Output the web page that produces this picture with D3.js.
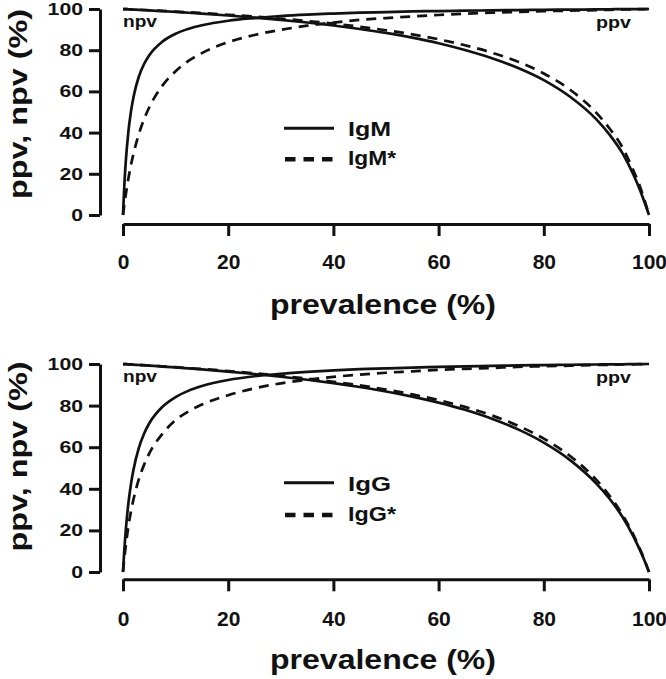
<!DOCTYPE html>
<html>
<head>
<meta charset="utf-8">
<script src="https://cdn.jsdelivr.net/npm/d3@7"></script>
<style>
  body { margin: 0; background: #fff; }
  svg { display: block; }
  text { font-family: "Liberation Sans", Arial, sans-serif; font-weight: bold; fill: #111; }
</style>
</head>
<body>
<svg id="chart" width="666" height="679"></svg>
<script>
// ---- data ----
const prevalence = [0, 0.25, 0.5, 1, 1.5, 2, 3, 4, 5, 7.5, 10, 12.5, 15, 20, 25, 30, 35, 40, 45, 50, 55, 60, 65, 70, 75, 80, 85, 90, 92.5, 95, 97, 98, 99, 100];

const igmPpv  = [0, 14.2, 24.9, 39.9, 50.0, 57.3, 67.1, 73.3, 77.6, 84.2, 88.0, 90.4, 92.1, 94.3, 95.6, 96.6, 97.3, 97.8, 98.2, 98.5, 98.8, 99.0, 99.2, 99.35, 99.5, 99.6, 99.7, 99.8, 99.88, 99.92, 99.95, 99.97, 99.98, 100];
const igmNpv  = [100, 99.97, 99.93, 99.87, 99.8, 99.73, 99.6, 99.46, 99.32, 98.96, 98.6, 98.18, 97.76, 96.85, 95.85, 94.72, 93.46, 92.0, 90.3, 88.4, 86.1, 83.4, 80.1, 76.2, 71.5, 65.5, 57.4, 46.4, 39.0, 29.8, 19.8, 14.0, 7.3, 0];
const igmSPpv = [0, 5.0, 9.5, 17.4, 24.1, 29.8, 39.2, 46.5, 52.3, 62.8, 69.8, 74.9, 78.6, 83.9, 87.4, 89.9, 91.9, 93.4, 94.7, 95.6, 96.4, 97.1, 97.7, 98.2, 98.6, 98.9, 99.2, 99.47, 99.61, 99.75, 99.85, 99.9, 99.95, 100];
const igmSNpv = [100, 99.97, 99.94, 99.88, 99.83, 99.77, 99.64, 99.52, 99.4, 99.08, 98.74, 98.38, 98.01, 97.2, 96.3, 95.3, 94.17, 92.9, 91.4, 89.7, 87.7, 85.3, 82.4, 78.9, 74.5, 68.7, 60.8, 49.6, 42.0, 32.6, 21.8, 15.8, 8.4, 0];

const iggPpv  = [0, 10.7, 19.3, 32.5, 42.0, 49.3, 59.6, 66.5, 71.5, 79.4, 84.1, 87.2, 89.4, 92.3, 94.1, 95.3, 96.2, 96.9, 97.5, 97.9, 98.3, 98.6, 98.9, 99.1, 99.3, 99.5, 99.63, 99.77, 99.83, 99.89, 99.94, 99.96, 99.98, 100];
const iggNpv  = [100, 99.96, 99.92, 99.85, 99.77, 99.69, 99.53, 99.37, 99.21, 98.78, 98.34, 97.87, 97.39, 96.34, 95.18, 93.88, 92.43, 90.8, 88.94, 86.8, 84.33, 81.43, 77.99, 73.82, 68.68, 62.2, 53.8, 42.5, 35.2, 26.3, 17.3, 12.1, 6.4, 0];
const iggSPpv = [0, 6.5, 12, 21.5, 29, 35, 44.5, 51.5, 57, 66.5, 73, 77.3, 80.5, 85.0, 88.3, 90.7, 92.4, 93.8, 94.9, 95.8, 96.5, 97.2, 97.7, 98.1, 98.6, 98.9, 99.2, 99.5, 99.64, 99.77, 99.86, 99.91, 99.96, 100];
const iggSNpv = [100, 99.96, 99.93, 99.86, 99.79, 99.71, 99.57, 99.42, 99.27, 98.88, 98.47, 98.04, 97.59, 96.62, 95.54, 94.34, 92.99, 91.46, 89.72, 87.72, 85.39, 82.64, 79.37, 75.38, 70.42, 64.1, 55.76, 44.25, 36.67, 27.32, 18.09, 12.72, 6.73, 0];

const xTicks = [0, 20, 40, 60, 80, 100];
const yTicks = [0, 20, 40, 60, 80, 100];
const legendTop = ["IgM", "IgM*"];
const legendBottom = ["IgG", "IgG*"];
const xTitle = "prevalence (%)";
const yTitle = "ppv, npv (%)";

// ---- drawing ----
const svg = d3.select("#chart");
const LW = 2.7;
const DASH = "10,7";

function panel(cfg) {
  const g = svg.append("g");
  const x = d3.scaleLinear().domain([0, 100]).range([123, 649]);
  const y = d3.scaleLinear().domain([0, 100]).range([cfg.y0, cfg.y100]);

  // y axis
  const ya = g.append("g").attr("transform", "translate(100,0)")
    .call(d3.axisLeft(y).tickValues(yTicks).tickSize(11).tickSizeOuter(0).tickPadding(6));
  ya.selectAll("text")
    .style("font-size", "17px").style("font-family", "Liberation Sans, Arial, sans-serif").style("font-weight", "bold")
    .attr("fill", "#111")
    .attr("textLength", function () { return this.textContent.length * 11.8; })
    .attr("lengthAdjust", "spacingAndGlyphs");
  // x axis
  const xa = g.append("g").attr("transform", `translate(0,${cfg.xAxisY})`)
    .call(d3.axisBottom(x).tickValues(xTicks).tickSize(12).tickSizeOuter(0).tickPadding(cfg.xPad));
  xa.selectAll("text").style("font-size", "21px").style("font-family", "Liberation Sans, Arial, sans-serif").style("font-weight", "bold").attr("fill", "#111");
  g.selectAll(".domain, .tick line").attr("stroke", "#111").attr("stroke-width", 3);

  const line = d3.line().x((d, i) => x(prevalence[i])).y(d => y(d)).curve(d3.curveMonotoneX);
  cfg.series.forEach(s => {
    g.append("path").attr("d", line(s.values)).attr("fill", "none")
      .attr("stroke", "#111").attr("stroke-width", LW)
      .attr("stroke-dasharray", s.dashed ? DASH : null);
  });

  // npv / ppv labels
  g.append("text").attr("x", 123).attr("y", cfg.labelY).attr("font-size", 17).attr("textLength", 34).attr("lengthAdjust", "spacingAndGlyphs").text("npv");
  g.append("text").attr("x", 596).attr("y", cfg.labelY + 0.5).attr("font-size", 17).attr("textLength", 35).attr("lengthAdjust", "spacingAndGlyphs").text("ppv");

  // legend
  g.append("line").attr("x1", 284).attr("x2", 334).attr("y1", cfg.legY1).attr("y2", cfg.legY1).attr("stroke", "#111").attr("stroke-width", 3);
  g.append("line").attr("x1", 285).attr("x2", 334).attr("y1", cfg.legY2).attr("y2", cfg.legY2).attr("stroke", "#111").attr("stroke-width", 4.5).attr("stroke-dasharray", "10.5,8");
  g.append("text").attr("x", 348).attr("y", cfg.legY1 + 8).attr("font-size", 21).attr("textLength", 43).attr("lengthAdjust", "spacingAndGlyphs").text(cfg.legend[0]);
  g.append("text").attr("x", 348).attr("y", cfg.legY2 + 6).attr("font-size", 21).attr("textLength", 48).attr("lengthAdjust", "spacingAndGlyphs").text(cfg.legend[1]);

  // titles
  g.append("text").attr("x", 383).attr("y", cfg.titleY).attr("text-anchor", "middle")
    .attr("font-size", 28).attr("textLength", 226).attr("lengthAdjust", "spacingAndGlyphs").text(xTitle);
  g.append("text").attr("transform", `translate(27,${cfg.yTitleC}) rotate(-90)`).attr("text-anchor", "middle")
    .attr("font-size", 26).attr("textLength", 190).attr("lengthAdjust", "spacingAndGlyphs").text(yTitle);
}

panel({
  y0: 215, y100: 9, xAxisY: 224, xPad: 18, titleY: 314, yTitleC: 104, labelY: 27,
  legY1: 128.3, legY2: 159.3, legend: legendTop,
  series: [
    { values: igmPpv, dashed: false }, { values: igmNpv, dashed: false },
    { values: igmSPpv, dashed: true }, { values: igmSNpv, dashed: true }
  ]
});
panel({
  y0: 572, y100: 364, xAxisY: 579.3, xPad: 20, titleY: 669, yTitleC: 456.5, labelY: 382,
  legY1: 482.7, legY2: 515, legend: legendBottom,
  series: [
    { values: iggPpv, dashed: false }, { values: iggNpv, dashed: false },
    { values: iggSPpv, dashed: true }, { values: iggSNpv, dashed: true }
  ]
});
</script>
</body>
</html>
